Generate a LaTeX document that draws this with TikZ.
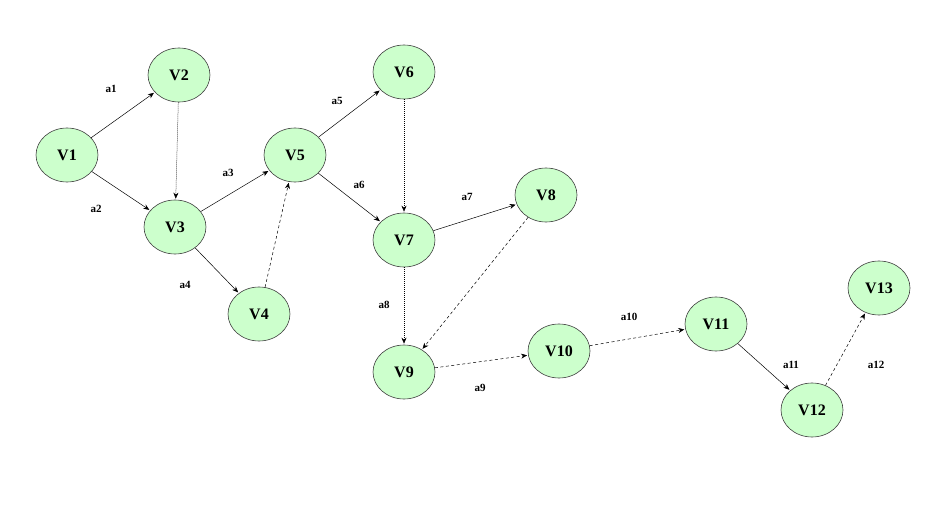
\documentclass[tikz,border=0pt]{standalone}
\usepackage{fontspec}
\setmainfont{Liberation Serif}
\usetikzlibrary{arrows.meta,shapes.geometric}
\definecolor{nodefill}{HTML}{CCFFCC}
\definecolor{nodedraw}{HTML}{404040}
\tikzset{
  vnode/.style={ellipse, draw=nodedraw, line width=0.6pt, fill=nodefill, minimum width=62pt, minimum height=54pt, inner sep=0pt, font=\fontsize{16}{16}\selectfont\bfseries},
  elabel/.style={font=\fontsize{11}{11}\selectfont\bfseries, inner sep=0pt},
  edge/.style={-{Stealth[length=6pt,width=5pt]}, line width=0.5pt, shorten >=1pt},
  dotedge/.style={edge, dash pattern=on 1pt off 1pt},
  dashedge/.style={edge, dash pattern=on 3pt off 2.5pt},
}
\begin{document}
\begin{tikzpicture}[x=1pt,y=-1pt]
\useasboundingbox (0,0) rectangle (948,516);
\node[vnode] (V1) at (67,155) {V1};
\node[vnode] (V2) at (179,75) {V2};
\node[vnode] (V3) at (175,227) {V3};
\node[vnode] (V4) at (259,314) {V4};
\node[vnode] (V5) at (295,155) {V5};
\node[vnode] (V6) at (404,72) {V6};
\node[vnode] (V7) at (404,240) {V7};
\node[vnode] (V8) at (546,195) {V8};
\node[vnode] (V9) at (404,372) {V9};
\node[vnode] (V10) at (559,351) {V10};
\node[vnode] (V11) at (716,324) {V11};
\node[vnode] (V12) at (812,410) {V12};
\node[vnode] (V13) at (879,288) {V13};

\node[elabel] (a1) at (111,89) {a1};
\node[elabel] (a2) at (96,209) {a2};
\node[elabel] (a3) at (228,173) {a3};
\node[elabel] (a4) at (185,285) {a4};
\node[elabel] (a5) at (337,101) {a5};
\node[elabel] (a6) at (359,185) {a6};
\node[elabel] (a7) at (467,197) {a7};
\node[elabel] (a8) at (384,305) {a8};
\node[elabel] (a9) at (480,388) {a9};
\node[elabel] (a10) at (629,317) {a10};
\node[elabel] (a11) at (791,365) {a11};
\node[elabel] (a12) at (876,365) {a12};

\draw[edge] (V1) -- (V2);
\draw[edge] (V1) -- (V3);
\draw[dotedge] (V2) -- (V3);
\draw[edge] (V3) -- (V5);
\draw[edge] (V3) -- (V4);
\draw[dashedge] (V4) -- (V5);
\draw[edge] (V5) -- (V6);
\draw[edge] (V5) -- (V7);
\draw[dotedge] (V6) -- (V7);
\draw[edge] (V7) -- (V8);
\draw[dotedge] (V7) -- (V9);
\draw[dashedge] (V8) -- (V9);
\draw[dashedge] (V9) -- (V10);
\draw[dashedge] (V10) -- (V11);
\draw[edge] (V11) -- (V12);
\draw[dashedge] (V12) -- (V13);
\end{tikzpicture}
\end{document}
